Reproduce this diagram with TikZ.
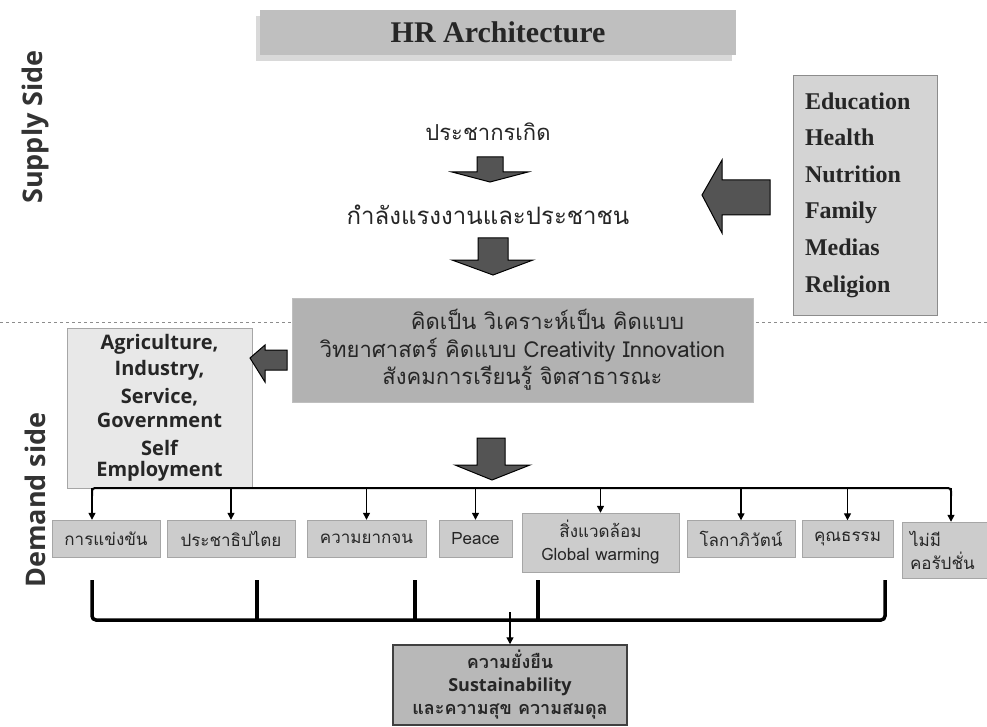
\documentclass[tikz,border=0pt]{standalone}
\usepackage{fontspec}
\setmainfont{Liberation Serif}
\newfontfamily\thai[Script=Thai]{Loma}
\newfontfamily\sidefont{Open Sans}
\usetikzlibrary{positioning,arrows.meta,shadows}

\tikzset{
  graybox/.style={draw=black!35, fill=black!20, inner sep=0pt, align=center, text=black!85},
  rowbox/.style={graybox, minimum height=37, font=\thai\fontsize{17}{23}\selectfont},
  sidelabel/.style={rotate=90, text=black!80, font=\sidefont\bfseries\fontsize{27}{30}\selectfont},
  blockarrow/.style={draw=black, fill=black!67, line width=1pt, line join=miter},
  busline/.style={line width=2pt, rounded corners=3pt},
  tick/.style={line width=1.3pt, -{Triangle[length=7pt,width=7pt]}},
  bracket/.style={line width=3.5pt, rounded corners=4pt},
  sepline/.style={draw=black!45, line width=1pt, dash pattern=on 3pt off 3pt}
}

\begin{document}
\begin{tikzpicture}[x=1pt,y=-1pt]
  \useasboundingbox (0,0) rectangle (987,727);

  % dotted line between supply and demand
  \draw[sepline] (0,322) -- (987,322);

  \node[sidelabel] (supply) at (35,127) {Supply Side};
  \node[sidelabel] (demand) at (35,500) {Demand side};

  \node[graybox, draw=none, fill=black!25, minimum width=476, minimum height=45,
        drop shadow={shadow xshift=-4pt, shadow yshift=-6pt, fill=black!15, opacity=1},
        font=\bfseries\fontsize{30}{36}\selectfont] (title) at (498,32.5) {HR Architecture};

  % supply side
  \node[font=\thai\fontsize{22}{24}\selectfont, text=black!85] (born) at (488,132) {ประชากรเกิด};
  \node[font=\thai\fontsize{24}{26}\selectfont, text=black!85] (labour) at (488,215) {กำลังแรงงานและประชาชน};
  \filldraw[blockarrow] (477,157) -- (503,157) -- (503,172) -- (528,172) -- (490,182) -- (452,172) -- (477,172) -- cycle;
  \filldraw[blockarrow] (478,238) -- (508,238) -- (508,260) -- (533,260) -- (493,275) -- (452,260) -- (478,260) -- cycle;

  \node[graybox, draw=black!45, fill=black!17, minimum height=240, text width=120, inner xsep=12pt,
        align=left, font=\bfseries\fontsize{24}{36.6}\selectfont] (factors) at (865,195)
        {Education\\Health\\Nutrition\\Family\\Medias\\Religion};
  \filldraw[blockarrow] (770,180) -- (770,215) -- (722,215) -- (722,233) -- (702,195) -- (722,160) -- (722,180) -- cycle;

  % thinking skills
  \node[graybox, draw=black!25, fill=black!30, minimum width=461, minimum height=104,
        font=\thai\fontsize{22}{27.5}\selectfont] (skills) at (522.5,350)
        {\hspace*{50pt}คิดเป็น วิเคราะห์เป็น คิดแบบ\\วิทยาศาสตร์ คิดแบบ Creativity Innovation\\สังคมการเรียนรู้ จิตสาธารณะ};

  \node[graybox, fill=black!9, minimum width=185, minimum height=160,
        font=\sidefont\bfseries\fontsize{20}{26}\selectfont] (sectors) at (159.5,408)
        {Agriculture,\\Industry,\\[2pt]Service,\\[-2pt]Government\\[2pt]Self\\[-5pt]Employment};
  \filldraw[blockarrow] (287,350) -- (287,370) -- (265,370) -- (265,382) -- (250,358) -- (265,345) -- (265,350) -- cycle;

  \filldraw[blockarrow] (477,438) -- (505,438) -- (505,465) -- (530,465) -- (492,480) -- (455,465) -- (477,465) -- cycle;

  % demand side issues
  \node[rowbox, minimum width=108] (b1) at (106,538.5) {การแข่งขัน};
  \node[rowbox, minimum width=128] (b2) at (231,538.5) {ประชาธิปไตย};
  \node[rowbox, minimum width=119] (b3) at (366.5,538.5) {ความยากจน};
  \node[rowbox, minimum width=73] (b4) at (475.5,538.5) {Peace};
  \node[rowbox, minimum width=157, minimum height=59] (b5) at (600.5,542.5) {สิ่งแวดล้อม\\Global warming};
  \node[rowbox, minimum width=108] (b6) at (741,539) {โลกาภิวัตน์};
  \node[rowbox, minimum width=91] (b7) at (847.5,539) {คุณธรรม};
  \node[rowbox, minimum width=85, minimum height=56, align=left, text width=69] (b8) at (944.5,550) {ไม่มี\\คอรัปชั่น};

  \coordinate (busL) at (92,488);
  \coordinate (busR) at (951,488);
  \draw[busline] ([yshift=-8pt]busL) -- (busL) -- (busR) -- ([yshift=-8pt]busR);
  \draw[tick] (busL) -- ([xshift=-14pt]b1.north);
  \foreach \b in {b2,b3,b4,b5,b6,b7}
    \draw[tick] (\b.north |- busL) -- (\b.north);
  \draw[tick] (busR) -- (busR |- b8.north);

  % outcome
  \coordinate (brL) at (92,620);
  \coordinate (brR) at (885,620);
  \draw[bracket] (92,580) -- (brL) -- (brR) -- (885,580);
  \foreach \x in {257,415,538}
    \draw[bracket] (\x,580) -- (\x,620);

  \node[graybox, draw=black!75, line width=1.5pt, fill=black!28, minimum width=234, minimum height=80,
        font=\thai\bfseries\fontsize{18}{23}\selectfont] (goal) at (510,685)
        {ความยั่งยืน\\{\sidefont\bfseries Sustainability}\\และความสุข ความสมดุล};
  \draw[tick] (goal.north |- 0,612) -- (goal.north);
\end{tikzpicture}
\end{document}
